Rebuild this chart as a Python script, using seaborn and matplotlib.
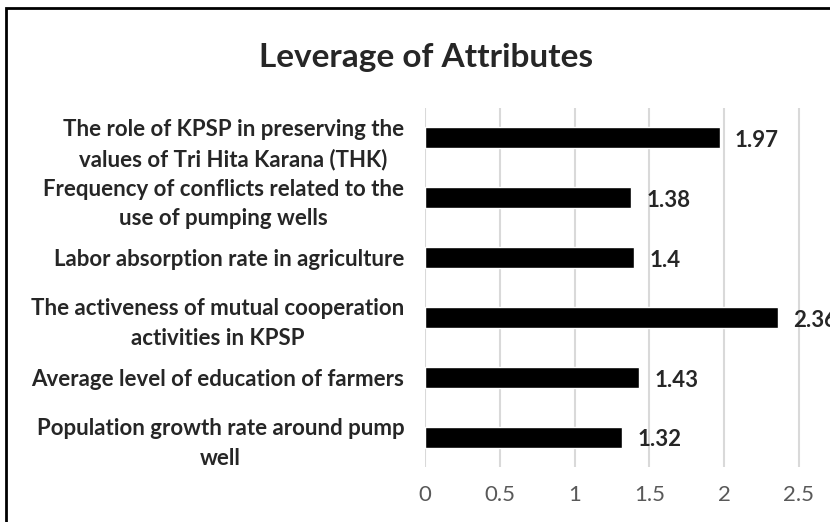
import matplotlib
matplotlib.use("Agg")
import matplotlib.pyplot as plt
import seaborn as sns
from matplotlib.patches import Rectangle

# ============================================================================
# DATA
# ============================================================================

attributes = [
    "The role of KPSP in preserving the\nvalues of Tri Hita Karana (THK)",
    "Frequency of conflicts related to the\nuse of pumping wells",
    "Labor absorption rate in agriculture",
    "The activeness of mutual cooperation\nactivities in KPSP",
    "Average level of education of farmers",
    "Population growth rate around pump\nwell",
]

leverage = [1.97, 1.38, 1.40, 2.36, 1.43, 1.32]

value_labels = ["1.97", "1.38", "1.4", "2.36", "1.43", "1.32"]

x_ticks = [0, 0.5, 1, 1.5, 2, 2.5]
x_tick_labels = ["0", "0.5", "1", "1.5", "2", "2.5"]

# ============================================================================
# STYLE
# ============================================================================

sns.set_style("white")
plt.rcParams["font.family"] = ["Lato", "DejaVu Sans"]

W, H = 830, 522
fig = plt.figure(figsize=(W / 100, H / 100), dpi=100)

ax = fig.add_axes([425 / W, 55 / H, 405 / W, 359 / H])

# ============================================================================
# BARS
# ============================================================================

sns.barplot(
    x=leverage,
    y=attributes,
    orient="h",
    color="black",
    width=0.35,
    saturation=1,
    ax=ax
)

ax.set_xlim(0, 405 / 149.6)
ax.set_ylim(5.5, -0.5)
ax.set_xticks(x_ticks)
ax.set_xticklabels(x_tick_labels, color="#595959", fontsize=16)
ax.grid(axis="x", color="#d9d9d9", linewidth=1.5)
ax.set_axisbelow(True)
for s in ax.spines.values():
    s.set_visible(False)
ax.tick_params(axis="x", length=0, pad=13)
ax.tick_params(axis="y", length=0, pad=15)

for lbl in ax.get_yticklabels():
    lbl.set_fontsize(16)
    lbl.set_fontweight("bold")
    lbl.set_multialignment("center")
    lbl.set_linespacing(1.5)

ax.set_xlabel("")
ax.set_ylabel("")

for i, (v, t) in enumerate(zip(leverage, value_labels)):
    ax.annotate(
        t,
        xy=(v, i),
        xytext=(11, -2),
        textcoords="offset points",
        va="center",
        ha="left",
        fontsize=16,
        fontweight="bold",
        annotation_clip=False
    )

# ============================================================================
# TITLE & FRAME
# ============================================================================

fig.text(426 / W, 1 - 57 / H, "Leverage of Attributes",
         ha="center", va="center", fontsize=24, fontweight="bold")

fig.patches.append(Rectangle(
    (5.5 / W, -0.1), 1.2, 1.1 - 8 / H,
    transform=fig.transFigure, fill=False,
    edgecolor="black", linewidth=2, figure=fig
))

fig.savefig("out.png", dpi=100)
